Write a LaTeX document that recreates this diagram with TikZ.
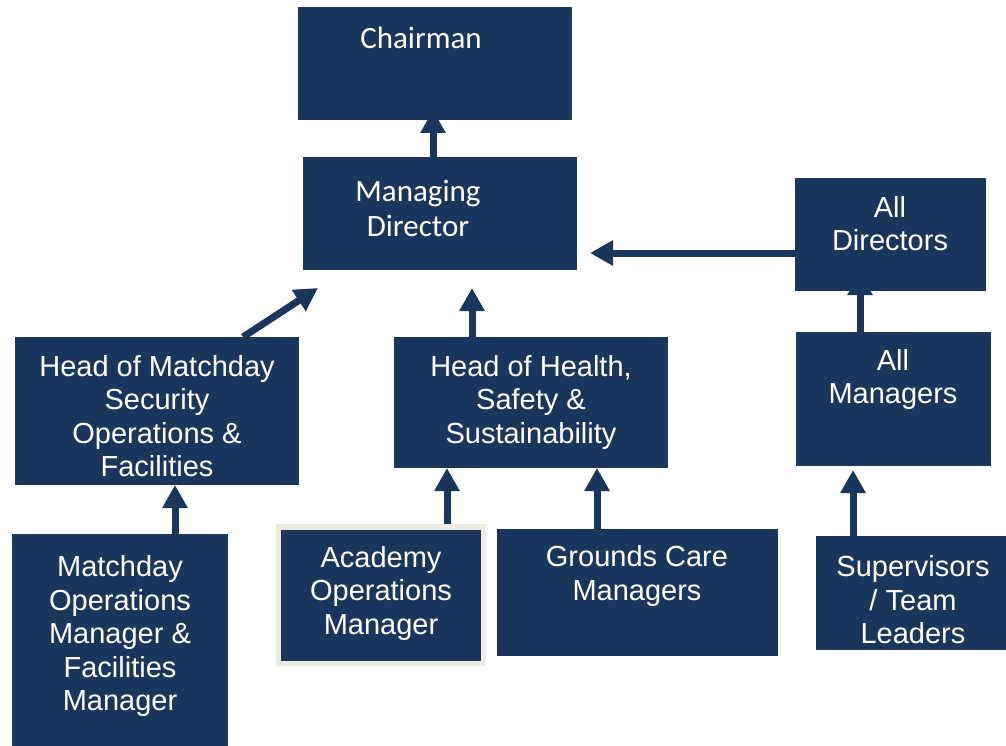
\documentclass[tikz,border=0pt]{standalone}
\usepackage{fontspec}
\setmainfont{Liberation Sans}
\newfontfamily\calfont{Carlito}
\usetikzlibrary{arrows.meta,backgrounds}
\definecolor{navy}{RGB}{26,54,93}
\definecolor{beige}{RGB}{238,235,224}
\tikzset{
  box/.style={fill=navy,draw=none,inner sep=0pt,anchor=north west},
  lbl/.style={text=white,align=center,inner sep=0pt,font=\fontsize{29}{33.5}\selectfont},
  clbl/.style={text=white,align=center,inner sep=0pt,font=\calfont\fontsize{31}{35}\selectfont},
  arr/.style={draw=navy,line width=7pt,-{Triangle[width=24pt,length=23pt]}}
}
\begin{document}
\begin{tikzpicture}[x=1pt,y=-1pt]
\useasboundingbox (0,0) rectangle (1006,746);
% boxes
\node[box,minimum width=274pt,minimum height=113pt] (chair) at (298,7) {};
\node[box,minimum width=274pt,minimum height=113pt] (md) at (303,157) {};
\node[box,minimum width=191pt,minimum height=113pt] (alld) at (795,178) {};
\node[box,minimum width=195pt,minimum height=134pt] (allm) at (796,332) {};
\node[box,minimum width=284pt,minimum height=148pt] (hms) at (15,337) {};
\node[box,minimum width=274pt,minimum height=131pt] (hhs) at (394,337) {};
\node[box,minimum width=216pt,minimum height=215pt] (mom) at (12,534) {};
\node[box,fill=beige,minimum width=210pt,minimum height=142pt] (acadb) at (276,524) {};
\node[box,minimum width=200pt,minimum height=131pt] (acad) at (281,530) {};
\node[box,minimum width=281pt,minimum height=127pt] (gcm) at (497,529) {};
\node[box,minimum width=190pt,minimum height=114pt] (sup) at (816,536) {};
% texts
\node[clbl] (chair-t) at (421,38) {Chairman};
\node[clbl] (md-t) at (418,208) {Managing\\Director};
\node[lbl] (alld-t) at (890,223.5) {All\\Directors};
\node[lbl] (allm-t) at (893,379.5) {All\\Managers};
\node[lbl] (hms-t) at (157,416) {Head of Matchday\\Security\\Operations \&\\Facilities};
\node[lbl] (hhs-t) at (531,402) {Head of Health,\\Safety \&\\Sustainability};
\node[lbl] (mom-t) at (120,636) {Matchday\\Operations\\Manager \&\\Facilities\\Manager};
\node[lbl] (acad-t) at (381,593) {Academy\\Operations\\Manager};
\node[lbl] (gcm-t) at (637,576) {Grounds Care\\Managers};
\node[lbl] (sup-t) at (913,600) {Supervisors\\/ Team\\Leaders};
% connectors
\coordinate (mdtip) at (433,110);
\coordinate (mdin1) at (590,253);
\coordinate (mdin2) at (318,288);
\coordinate (mdin3) at (472,288);
\coordinate (adtip) at (860,272);
\begin{scope}[on background layer]
\draw[arr] (md.north -| mdtip) -- (mdtip);
\draw[arr] (alld.west |- mdin1) -- (mdin1);
\draw[arr] (243,337) -- (mdin2);
\draw[arr] (hhs.north -| mdin3) -- (mdin3);
\draw[arr] (allm.north -| adtip) -- (adtip);
\draw[arr] (175,534) -- (175,485) coordinate (hmsin);
\draw[arr] (447,530) -- (447,468) coordinate (hhsin1);
\draw[arr] (597,529) -- (597,468) coordinate (hhsin2);
\draw[arr] (853,536) -- (853,470) coordinate (allmin);
\end{scope}
\end{tikzpicture}
\end{document}
